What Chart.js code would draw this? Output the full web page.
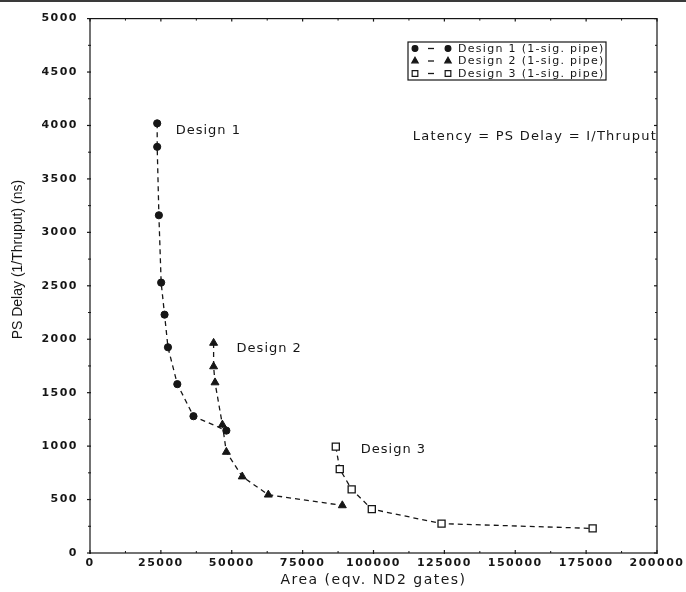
<!DOCTYPE html>
<html>
<head>
<meta charset="utf-8">
<script src="https://cdn.jsdelivr.net/npm/chart.js@4.4.1/dist/chart.umd.min.js"></script>
<style>
html,body{margin:0;padding:0;background:#fff;}
#wrap{width:686px;height:592px;}
</style>
</head>
<body>
<div id="wrap"><canvas id="c" width="686" height="592"></canvas></div>
<script>
// ---- data ----
const design1Area  = [23700, 23700, 24300, 25100, 26300, 27500, 30800, 36500, 48100];
const design1Delay = [4020, 3800, 3160, 2530, 2230, 1925, 1580, 1280, 1145];
const design2Area  = [43600, 43600, 44100, 46700, 48100, 53700, 62900, 89000];
const design2Delay = [1965, 1745, 1595, 1200, 945, 715, 545, 445];
const design3Area  = [86700, 88100, 92300, 99400, 124000, 177300];
const design3Delay = [995, 785, 595, 410, 275, 230];
const seriesLabels = ['Design 1 (1-sig. pipe)', 'Design 2 (1-sig. pipe)', 'Design 3 (1-sig. pipe)'];
const seriesTags   = ['Design 1', 'Design 2', 'Design 3'];
const xTickValues  = [0, 25000, 50000, 75000, 100000, 125000, 150000, 175000, 200000];
const yTickValues  = [0, 500, 1000, 1500, 2000, 2500, 3000, 3500, 4000, 4500, 5000];
const xTitle = 'Area (eqv. ND2 gates)';
const yTitle = 'PS Delay (1/Thruput) (ns)';
const noteText = 'Latency = PS Delay = I/Thruput';

const INK = '#161616';
const pts = (xs, ys) => xs.map((x, i) => ({x: x, y: ys[i]}));

const tagOffsets = [[18.5, 7], [23, 6], [25, 3]];

const decor = {
  id: 'decor',
  beforeDraw(chart) {
    const ctx = chart.ctx;
    ctx.save();
    ctx.fillStyle = '#fff';
    ctx.fillRect(0, 0, chart.width, chart.height);
    ctx.fillStyle = '#3a3a3a';
    ctx.fillRect(0, 0, chart.width, 2);
    ctx.restore();
    ctx.letterSpacing = '1.5px';
  },
  afterDraw(chart) {
    const ctx = chart.ctx, a = chart.chartArea;
    const xs = chart.scales.x, ys = chart.scales.y;
    const line = (x1, y1, x2, y2) => { ctx.beginPath(); ctx.moveTo(x1, y1); ctx.lineTo(x2, y2); ctx.stroke(); };
    ctx.save();
    ctx.strokeStyle = INK;
    ctx.lineWidth = 1.2;
    ctx.setLineDash([]);
    ctx.strokeRect(a.left, a.top, a.right - a.left, a.bottom - a.top);
    // major ticks
    xTickValues.forEach(v => {
      const p = xs.getPixelForValue(v);
      line(p, a.bottom + 1, p, a.bottom - 3);
      line(p, a.top, p, a.top + 3);
    });
    yTickValues.forEach(v => {
      const p = ys.getPixelForValue(v);
      line(a.left - 3, p, a.left + 1, p);
      line(a.right, p, a.right - 3, p);
    });
    // minor ticks
    ctx.lineWidth = 1;
    for (let i = 0; i < xTickValues.length - 1; i++) {
      const p = xs.getPixelForValue((xTickValues[i] + xTickValues[i + 1]) / 2);
      line(p, a.bottom, p, a.bottom - 2);
      line(p, a.top, p, a.top + 2);
    }
    for (let i = 0; i < yTickValues.length - 1; i++) {
      const p = ys.getPixelForValue((yTickValues[i] + yTickValues[i + 1]) / 2);
      line(a.left - 2, p, a.left + 1, p);
      line(a.right, p, a.right - 2, p);
    }

    ctx.fillStyle = INK;
    // axis titles
    ctx.letterSpacing = '1.5px';
    ctx.font = '14px "DejaVu Sans"';
    ctx.textAlign = 'center';
    ctx.textBaseline = 'middle';
    ctx.fillText(xTitle, (a.left + a.right) / 2, a.bottom + 27);

    ctx.save();
    ctx.letterSpacing = '0px';
    ctx.font = '14px "Liberation Sans"';
    ctx.translate(18, a.top + 241);
    ctx.rotate(-Math.PI / 2);
    ctx.fillText(yTitle, 0, 0);
    ctx.restore();

    // series tags next to first point of each series
    ctx.letterSpacing = '1px';
    ctx.font = '13px "DejaVu Sans"';
    ctx.textAlign = 'left';
    chart.data.datasets.forEach((ds, i) => {
      const m = chart.getDatasetMeta(i).data[0];
      ctx.fillText(seriesTags[i], m.x + tagOffsets[i][0], m.y + tagOffsets[i][1]);
    });

    // note
    ctx.letterSpacing = '1.25px';
    ctx.font = '13px "DejaVu Sans"';
    ctx.textAlign = 'right';
    ctx.fillText(noteText, a.right, a.top + 118);

    // legend box
    const bx = 408, by = 42, bw = 198, bh = 38;
    ctx.lineWidth = 1.2;
    ctx.strokeRect(bx, by, bw, bh);
    ctx.letterSpacing = '1.3px';
    ctx.font = '11px "DejaVu Sans"';
    ctx.textAlign = 'left';
    chart.data.datasets.forEach((ds, i) => {
      const y = by + 6.5 + i * 12.5;
      ctx.save();
      ctx.lineWidth = 1.3;
      ctx.setLineDash([]);
      line(428, y, 434, y);
      ctx.restore();
      [415, 448].forEach(x => {
        ctx.save();
        ctx.fillStyle = ds.pointBackgroundColor;
        ctx.strokeStyle = INK;
        Chart.helpers.drawPoint(ctx, {
          pointStyle: ds.pointStyle, rotation: 0,
          radius: ds.pointRadius * 0.8, borderWidth: ds.pointBorderWidth
        }, x, y);
        ctx.restore();
      });
      ctx.fillText(ds.label, 458, y + 0.5);
    });
    ctx.restore();
  }
};

const common = {
  borderColor: INK,
  borderWidth: 1.3,
  borderDash: [5, 4],
  pointBorderColor: INK,
  showLine: true,
  fill: false,
  tension: 0
};

new Chart(document.getElementById('c'), {
  type: 'line',
  data: {
    datasets: [
      Object.assign({}, common, {label: seriesLabels[0], data: pts(design1Area, design1Delay),
        pointStyle: 'circle', pointRadius: 3.6, pointBackgroundColor: INK, pointBorderWidth: 1}),
      Object.assign({}, common, {label: seriesLabels[1], data: pts(design2Area, design2Delay),
        pointStyle: 'triangle', pointRadius: 4.6, pointBackgroundColor: INK, pointBorderWidth: 1}),
      Object.assign({}, common, {label: seriesLabels[2], data: pts(design3Area, design3Delay),
        pointStyle: 'rect', pointRadius: 5, pointBackgroundColor: '#fff', pointBorderWidth: 1.3})
    ]
  },
  options: {
    responsive: false,
    animation: false,
    devicePixelRatio: 1,
    layout: {padding: {left: 0, right: 29, top: 15, bottom: 0}},
    plugins: {legend: {display: false}, tooltip: {enabled: false}},
    scales: {
      x: {
        type: 'linear', min: 0, max: 200000,
        afterBuildTicks: s => { s.ticks = xTickValues.map(v => ({value: v})); },
        afterFit: s => { s.height = 39; },
        grid: {display: false, drawTicks: false},
        border: {display: false},
        ticks: {color: INK, padding: 4, maxRotation: 0, autoSkip: false,
          font: {family: 'DejaVu Sans', size: 11, weight: 'bold'},
          callback: v => String(v)}
      },
      y: {
        type: 'linear', min: 0, max: 5000,
        afterBuildTicks: s => { s.ticks = yTickValues.map(v => ({value: v})); },
        afterFit: s => { s.width = 90; },
        grid: {display: false, drawTicks: false},
        border: {display: false},
        ticks: {color: INK, padding: 12, autoSkip: false,
          font: {family: 'DejaVu Sans', size: 11, weight: 'bold'},
          callback: v => String(v)}
      }
    }
  },
  plugins: [decor]
});
</script>
</body>
</html>
